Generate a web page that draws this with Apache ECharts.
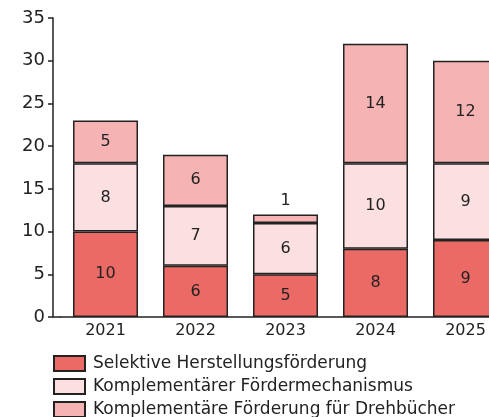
<!DOCTYPE html>
<html><head><meta charset="utf-8">
<script src="https://cdn.jsdelivr.net/npm/echarts@6/dist/echarts.min.js"></script>
<style>html,body{margin:0;padding:0;background:#fff;overflow:hidden;width:489px;height:417px}#c{width:540px;height:450px}</style>
</head><body><div id="c"></div>
<script>
const categories = ['2021','2022','2023','2024','2025'];
const selektive = [10, 6, 5, 8, 9];
const komplementaer = [8, 7, 6, 10, 9];
const drehbuecher = [5, 6, 1, 14, 12];
const yTicks = [0,5,10,15,20,25,30,35];
const seriesNames = ['Selektive Herstellungsförderung','Komplementärer Fördermechanismus','Komplementäre Förderung für Drehbücher'];
const colors = ['#ec6a66','#fce0e1','#f5b4b3'];
const font = 'DejaVu Sans';
const chart = echarts.init(document.getElementById('c'));
function mk(name, data, color){
  return {
    name, type:'bar', stack:'a', data: data.map(v=>{
      const small = v < 2;
      return {value:v, label:{position: small ? 'top' : 'inside', distance: 6}};
    }),
    barWidth:65,
    itemStyle:{color, borderColor:'#222', borderWidth:1.5},
    label:{show:true, color:'#222', fontSize:16, fontFamily:font},
    emphasis:{disabled:true}
  };
}
chart.setOption({
  animation:false,
  textStyle:{fontFamily:font},
  grid:{left:60.5, top:18, width:450, height:299},
  xAxis:{type:'category', data:categories,
    axisLine:{lineStyle:{color:'#222', width:1.5}},
    axisTick:{show:false},
    axisLabel:{color:'#222', fontSize:16, margin:6, fontFamily:font}},
  yAxis:{type:'value', min:0, max:35, interval:5, offset:7.5,
    axisLine:{show:true, lineStyle:{color:'#222', width:1.5}},
    axisTick:{show:true, length:5, lineStyle:{color:'#222', width:1.5}},
    splitLine:{show:false},
    axisLabel:{color:'#222', fontSize:18, margin:8, fontFamily:font,
      formatter: v => yTicks.includes(v) ? String(v) : ''}},
  legend:{orient:'vertical', left:53, top:355, padding:0, itemWidth:31, itemHeight:15, itemGap:6,
    icon:'rect',
    textStyle:{color:'#222', fontSize:17, lineHeight:16, fontFamily:font, padding:[0,0,0,3]},
    data: seriesNames},
  graphic:[{type:'line', shape:{x1:53, y1:317, x2:61, y2:317}, style:{stroke:'#222', lineWidth:1.5}}],
  series:[mk(seriesNames[0], selektive, colors[0]), mk(seriesNames[1], komplementaer, colors[1]), mk(seriesNames[2], drehbuecher, colors[2])]
});
</script></body></html>
